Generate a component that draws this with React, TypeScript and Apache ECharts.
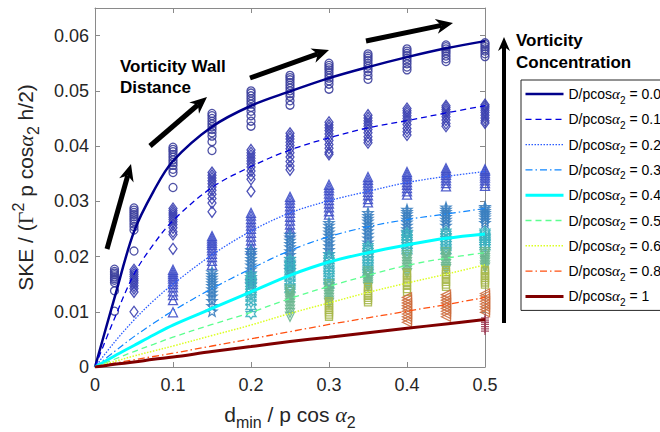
import React, { useEffect, useRef } from 'react';
import * as echarts from 'echarts';

// ---------- data ----------
const xCols = [0.025, 0.05, 0.1, 0.15, 0.2, 0.25, 0.3, 0.35, 0.4, 0.45, 0.5];
const fitX = [0, 0.025, 0.05, 0.075, 0.1, 0.15, 0.2, 0.25, 0.3, 0.35, 0.4, 0.45, 0.5];
const ratioLabels = ['0.05', '0.1', '0.2', '0.3', '0.4', '0.5', '0.6', '0.8', '1'];
const xTicks = [0, 0.1, 0.2, 0.3, 0.4, 0.5];
const yTicks = [0, 0.01, 0.02, 0.03, 0.04, 0.05, 0.06];

const fit005 = [0, 0.0125, 0.0245, 0.0318, 0.0373, 0.0435, 0.0473, 0.0499, 0.0523, 0.0543, 0.0561, 0.0577, 0.059];
const fit01 = [0, 0.0088, 0.0168, 0.0222, 0.0265, 0.0325, 0.0363, 0.0393, 0.0415, 0.0433, 0.0446, 0.046, 0.0473];
const fit02 = [0, 0.0045, 0.0085, 0.012, 0.015, 0.0203, 0.0246, 0.0279, 0.0301, 0.0318, 0.0334, 0.0345, 0.0354];
const fit03 = [0, 0.0028, 0.0055, 0.0079, 0.0102, 0.0142, 0.0178, 0.0211, 0.0236, 0.0254, 0.0267, 0.0277, 0.0287];
const fit04 = [0, 0.002, 0.0039, 0.0058, 0.0076, 0.0106, 0.0136, 0.0166, 0.019, 0.0207, 0.0221, 0.0233, 0.0241];
const fit05 = [0, 0.0014, 0.0028, 0.0041, 0.0054, 0.0077, 0.0099, 0.0124, 0.0146, 0.0166, 0.0184, 0.0197, 0.0207];
const fit06 = [0, 0.001, 0.002, 0.0029, 0.0038, 0.0057, 0.0076, 0.0097, 0.0116, 0.0135, 0.0152, 0.0168, 0.0185];
const fit08 = [0, 0.0007, 0.0013, 0.0019, 0.0025, 0.0038, 0.0051, 0.0064, 0.0077, 0.0089, 0.0101, 0.0113, 0.0126];
const fit10 = [0, 0.0005, 0.0009, 0.0014, 0.0018, 0.0028, 0.0037, 0.0046, 0.0054, 0.0062, 0.007, 0.0078, 0.0086];

// measured SKE per column (columns end at x = 0.5)
const pts005 = [
  [0.0177, 0.0173, 0.017, 0.0167, 0.0163, 0.016, 0.0157, 0.0153, 0.0138, 0.0101],
  [0.0288, 0.0284, 0.028, 0.0276, 0.0272, 0.0268, 0.0264, 0.0259, 0.0254, 0.0248, 0.021],
  [0.0398, 0.0394, 0.039, 0.0385, 0.038, 0.0375, 0.037, 0.0365, 0.0358, 0.0352, 0.0325],
  [0.0459, 0.0455, 0.045, 0.0445, 0.044, 0.0435, 0.043, 0.0424, 0.0418, 0.0408, 0.0392],
  [0.05, 0.0496, 0.0491, 0.0486, 0.0481, 0.0476, 0.047, 0.0463, 0.0455, 0.0445, 0.0436],
  [0.0528, 0.0524, 0.052, 0.0515, 0.051, 0.0505, 0.05, 0.0495, 0.049, 0.0482, 0.0474],
  [0.055, 0.0546, 0.0542, 0.0538, 0.0533, 0.0528, 0.0523, 0.0518, 0.0512, 0.0503],
  [0.0567, 0.0563, 0.0559, 0.0555, 0.055, 0.0545, 0.054, 0.0535, 0.0528, 0.0521],
  [0.0576, 0.0572, 0.0568, 0.0564, 0.0559, 0.0554, 0.0549, 0.0543, 0.0538],
  [0.0583, 0.058, 0.0576, 0.0572, 0.0568, 0.0563, 0.0558, 0.0553],
  [0.0587, 0.0584, 0.058, 0.0576, 0.0572, 0.0567, 0.0562],
];
const pts01 = [
  [0.0176, 0.0172, 0.0168, 0.0164, 0.016, 0.0156, 0.0152, 0.0147, 0.0142, 0.0136, 0.01],
  [0.0287, 0.0283, 0.0279, 0.0275, 0.0271, 0.0267, 0.0263, 0.0258, 0.0252, 0.0245, 0.024, 0.0214],
  [0.0352, 0.0347, 0.0342, 0.0337, 0.0332, 0.0326, 0.032, 0.0313, 0.0305, 0.0297, 0.0281],
  [0.0393, 0.0388, 0.0383, 0.0378, 0.0373, 0.0368, 0.0362, 0.0355, 0.0347, 0.034, 0.0318],
  [0.0423, 0.0418, 0.0413, 0.0407, 0.0401, 0.0395, 0.0388, 0.038, 0.0372, 0.0364, 0.0357],
  [0.0443, 0.0438, 0.0433, 0.0428, 0.0422, 0.0416, 0.041, 0.0403, 0.0396, 0.0389, 0.0385],
  [0.0456, 0.0451, 0.0446, 0.0441, 0.0436, 0.043, 0.0424, 0.0417, 0.0411, 0.0406],
  [0.0468, 0.0464, 0.046, 0.0455, 0.045, 0.0445, 0.0439, 0.0432, 0.0426, 0.042],
  [0.0473, 0.047, 0.0466, 0.0462, 0.0458, 0.0453, 0.0447, 0.0441, 0.0436],
  [0.0475, 0.0472, 0.0469, 0.0465, 0.0461, 0.0456, 0.0451, 0.0446, 0.0442],
];
const pts02 = [
  [0.0176, 0.0172, 0.0168, 0.0164, 0.016, 0.0155, 0.015, 0.0144, 0.0137, 0.013, 0.0121, 0.0099],
  [0.0237, 0.0233, 0.0229, 0.0225, 0.0221, 0.0216, 0.0211, 0.0205, 0.0199, 0.0192, 0.0185],
  [0.0279, 0.0274, 0.0268, 0.0262, 0.0256, 0.025, 0.0243, 0.0236, 0.0229, 0.0221, 0.0213],
  [0.0308, 0.0303, 0.0297, 0.0291, 0.0285, 0.0279, 0.0272, 0.0265, 0.0258, 0.025, 0.0244],
  [0.033, 0.0325, 0.032, 0.0314, 0.0308, 0.0302, 0.0296, 0.0289, 0.0282, 0.0276],
  [0.0344, 0.0339, 0.0334, 0.0329, 0.0323, 0.0317, 0.0311, 0.0304, 0.0298],
  [0.0353, 0.0349, 0.0345, 0.034, 0.0335, 0.033, 0.0324, 0.0318, 0.0312],
  [0.036, 0.0356, 0.0352, 0.0348, 0.0343, 0.0338, 0.0333, 0.0327],
  [0.0358, 0.0355, 0.0351, 0.0347, 0.0343, 0.0338, 0.0333, 0.0328],
];
const pts03 = [
  [0.0172, 0.0167, 0.0162, 0.0157, 0.0152, 0.0147, 0.0141, 0.0135, 0.0128, 0.012, 0.0111, 0.0101],
  [0.0212, 0.0207, 0.0202, 0.0196, 0.019, 0.0184, 0.0177, 0.017, 0.0163, 0.0156, 0.015],
  [0.024, 0.0235, 0.0229, 0.0223, 0.0217, 0.021, 0.0203, 0.0196, 0.0189, 0.0182, 0.0176],
  [0.0261, 0.0256, 0.025, 0.0244, 0.0238, 0.0232, 0.0226, 0.0219, 0.0212, 0.0205],
  [0.0279, 0.0274, 0.0269, 0.0264, 0.0258, 0.0252, 0.0246, 0.024, 0.0233, 0.0226],
  [0.0285, 0.0281, 0.0277, 0.0272, 0.0267, 0.0262, 0.0256, 0.025, 0.0244],
  [0.0289, 0.0285, 0.0281, 0.0277, 0.0272, 0.0267, 0.0262, 0.0256],
  [0.029, 0.0287, 0.0283, 0.0279, 0.0275, 0.0271, 0.0266, 0.0261],
];
const pts04 = [
  [0.0166, 0.0161, 0.0156, 0.0151, 0.0146, 0.0141, 0.0136, 0.013, 0.0124, 0.0117, 0.0109, 0.0096],
  [0.0194, 0.0189, 0.0184, 0.0178, 0.0172, 0.0166, 0.016, 0.0153, 0.0146, 0.014],
  [0.0202, 0.0197, 0.0192, 0.0186, 0.018, 0.0174, 0.0168, 0.0162, 0.0155, 0.0148],
  [0.0219, 0.0215, 0.021, 0.0205, 0.02, 0.0194, 0.0188, 0.0182, 0.0176, 0.0171],
  [0.0243, 0.0239, 0.0235, 0.023, 0.0225, 0.022, 0.0215, 0.021],
  [0.0245, 0.0241, 0.0237, 0.0232, 0.0227, 0.0222, 0.0216, 0.021],
  [0.0245, 0.0242, 0.0238, 0.0234, 0.023, 0.0226, 0.0221, 0.0217],
];
const pts05 = [
  [0.014, 0.0136, 0.0132, 0.0128, 0.0124, 0.012, 0.0115, 0.011, 0.0104, 0.0098, 0.0091],
  [0.015, 0.0146, 0.0142, 0.0138, 0.0134, 0.013, 0.0125, 0.012, 0.0116],
  [0.0173, 0.0169, 0.0165, 0.0161, 0.0157, 0.0153, 0.0149, 0.0145],
  [0.0203, 0.0199, 0.0195, 0.019, 0.0185, 0.018, 0.0175, 0.017],
  [0.0208, 0.0204, 0.02, 0.0196, 0.0191, 0.0186, 0.0181, 0.0177],
  [0.0208, 0.0205, 0.0201, 0.0197, 0.0193, 0.0189, 0.0184, 0.018],
];
const pts06 = [
  [0.0119, 0.0115, 0.0111, 0.0107, 0.0103, 0.0099, 0.0095, 0.0091],
  [0.0145, 0.0141, 0.0137, 0.0133, 0.0129, 0.0125, 0.0121, 0.0117],
  [0.0171, 0.0167, 0.0162, 0.0157, 0.0152, 0.0147, 0.0141, 0.0136],
  [0.0176, 0.0172, 0.0168, 0.0164, 0.0159, 0.0154, 0.0149, 0.0145],
  [0.0176, 0.0173, 0.0169, 0.0165, 0.0161, 0.0157, 0.0153, 0.0149],
];
const pts08 = [
  [0.0126, 0.0121, 0.0116, 0.0111, 0.0106, 0.0101, 0.0096, 0.0091, 0.0086, 0.0081],
  [0.0131, 0.0126, 0.0121, 0.0116, 0.0111, 0.0106, 0.0101, 0.0096, 0.0091],
  [0.0133, 0.0129, 0.0124, 0.0119, 0.0114, 0.0109, 0.0104, 0.0099],
];
const pts10 = [
  [0.0089, 0.0085, 0.0081, 0.0077, 0.0073, 0.0069, 0.0065],
];

const fits = [fit005, fit01, fit02, fit03, fit04, fit05, fit06, fit08, fit10];
const pts = [pts005, pts01, pts02, pts03, pts04, pts05, pts06, pts08, pts10];

// ---------- styles ----------
const F = "'Liberation Sans', Arial, Helvetica, sans-serif";
const SERIF = "'Liberation Serif', 'DejaVu Serif', serif";
const lineStyles: any[] = [
  { color: '#00008b', width: 2.5, type: 'solid' },
  { color: '#0000dd', width: 1.3, type: [6, 4] },
  { color: '#2a5cff', width: 1.3, type: [1.5, 1.5] },
  { color: '#0f86ff', width: 1.2, type: [7, 3, 1.5, 3] },
  { color: '#00ffff', width: 3, type: 'solid' },
  { color: '#5cff90', width: 1.3, type: [6, 4] },
  { color: '#dcff22', width: 1.5, type: [1.5, 1.5] },
  { color: '#ff5010', width: 1.3, type: [7, 3, 1.5, 3] },
  { color: '#800000', width: 3, type: 'solid' },
];
const PENT = 'path://M0,-10 L2.35,-3.24 L9.51,-3.09 L3.8,1.24 L5.88,8.09 L0,4 L-5.88,8.09 L-3.8,1.24 L-9.51,-3.09 L-2.35,-3.24 Z';
const HEX = 'path://M0,-10 L2.89,-5 L8.66,-5 L5.77,0 L8.66,5 L2.89,5 L0,10 L-2.89,5 L-8.66,5 L-5.77,0 L-8.66,-5 L-2.89,-5 Z';
const TDOWN = 'path://M-10,-8 L10,-8 L0,9 Z';
const TLEFT = 'path://M-9,0 L8,-10 L8,10 Z';
const PLUS = 'path://M0,-10 L0,10 M-10,0 L10,0';
const markerStyles: any[] = [
  { symbol: 'circle', size: 8, color: '#3c3f9c' },
  { symbol: 'diamond', size: [8, 11], color: '#3a3fb0' },
  { symbol: 'triangle', size: 9, color: '#3f4fc8' },
  { symbol: PENT, size: 10, color: '#3b7fc0' },
  { symbol: HEX, size: 10, color: '#3bb0bf' },
  { symbol: TDOWN, size: 9, color: '#69b68e' },
  { symbol: 'rect', size: 7, color: '#a7b84b' },
  { symbol: TLEFT, size: 9, color: '#cd6c3c' },
  { symbol: PLUS, size: 8, color: '#9e3d55' },
];

function arrow(x1: number, y1: number, x2: number, y2: number, w: number, L: number, W: number) {
  const dx = x2 - x1, dy = y2 - y1;
  const len = Math.hypot(dx, dy);
  const ux = dx / len, uy = dy / len, px = -uy, py = ux;
  const bx = x2 - ux * L, by = y2 - uy * L;
  const nx = x2 - ux * L * 0.7, ny = y2 - uy * L * 0.7;
  return [
    { type: 'line', shape: { x1, y1, x2: nx, y2: ny }, style: { stroke: '#000', lineWidth: w }, silent: true },
    {
      type: 'polygon',
      shape: { points: [[x2, y2], [bx + (px * W) / 2, by + (py * W) / 2], [nx, ny], [bx - (px * W) / 2, by - (py * W) / 2]] },
      style: { fill: '#000' },
      silent: true,
    },
  ];
}

export default function App() {
  const ref = useRef<HTMLDivElement>(null);
  useEffect(() => {
    if (!ref.current) return;
    const chart = echarts.init(ref.current, null, { renderer: 'svg' });

    const scatterSeries = pts.map((cols, si) => {
      const start = xCols.length - cols.length;
      const data: number[][] = [];
      cols.forEach((col, ci) => col.forEach((y) => data.push([xCols[start + ci], y])));
      const m = markerStyles[si];
      return {
        type: 'scatter',
        name: 'pts ' + ratioLabels[si],
        data,
        symbol: m.symbol,
        symbolSize: m.size,
        itemStyle: { color: 'rgba(0,0,0,0)', borderColor: m.color, borderWidth: 1.3, opacity: 0.9 },
        z: 2,
        silent: true,
      };
    });
    const lineSeries = fits.map((f, si) => ({
      type: 'line',
      name: ratioLabels[si],
      data: fitX.map((x, i) => [x, f[i]]),
      symbol: 'none',
      showSymbol: false,
      smooth: 0.35,
      lineStyle: lineStyles[si],
      itemStyle: { color: lineStyles[si].color },
      z: 3,
      silent: true,
    }));

    const axisCommon = {
      axisLine: { show: true, onZero: false, lineStyle: { color: '#8a8a8a', width: 1 } },
      axisTick: { show: true, inside: true, length: 5, lineStyle: { color: '#8a8a8a' } },
      splitLine: { show: false },
    };

    const option: any = {
      animation: false,
      backgroundColor: '#fff',
      grid: { left: 95, right: 175, top: 8, bottom: 65, containLabel: false, outerBoundsMode: 'none' },
      xAxis: [
        {
          type: 'value', min: xTicks[0], max: xTicks[xTicks.length - 1], interval: 0.1,
          ...axisCommon,
          axisLabel: { show: true, margin: 9, fontFamily: F, fontSize: 18, color: '#262626' },
          name: '{t|d}{sub|min}{t| / p cos }{g|α}{sub|2}',
          nameLocation: 'middle', nameGap: 31,
          nameTextStyle: {
            fontFamily: F, fontSize: 21, color: '#262626',
            rich: {
              t: { fontFamily: F, fontSize: 21, lineHeight: 26, color: '#262626' },
              g: { fontFamily: SERIF, fontStyle: 'italic', fontSize: 22, lineHeight: 26, color: '#262626' },
              sub: { fontFamily: F, fontSize: 16, lineHeight: 10, padding: [16, 0, 0, 0], color: '#262626' },
            },
          },
        },
        {
          type: 'value', position: 'top', min: 0, max: 0.5, interval: 0.1,
          ...axisCommon, axisLabel: { show: false },
        },
      ],
      yAxis: [
        {
          type: 'value', min: yTicks[0], max: 0.065, interval: 0.01,
          ...axisCommon,
          axisLabel: { show: true, margin: 6, fontFamily: F, fontSize: 18, color: '#262626', showMaxLabel: false },
          name: '{t|SKE / (}{G|Γ}{sup|2}{t| p cos}{g|α}{sub|2}{t| h/2)}',
          nameLocation: 'middle', nameGap: 57, nameRotate: 90,
          nameTextStyle: {
            fontFamily: F, fontSize: 21, color: '#262626',
            rich: {
              t: { fontFamily: F, fontSize: 21, lineHeight: 26, color: '#262626' },
              G: { fontFamily: SERIF, fontSize: 22, lineHeight: 26, color: '#262626' },
              g: { fontFamily: SERIF, fontStyle: 'italic', fontSize: 22, lineHeight: 26, color: '#262626' },
              sup: { fontFamily: F, fontSize: 16, lineHeight: 12, padding: [0, 0, 14, 0], color: '#262626' },
              sub: { fontFamily: F, fontSize: 16, lineHeight: 10, padding: [16, 0, 0, 0], color: '#262626' },
            },
          },
        },
        {
          type: 'value', position: 'right', min: 0, max: 0.065, interval: 0.01,
          ...axisCommon, axisLabel: { show: false },
        },
      ],
      legend: {
        orient: 'vertical', left: 521, top: 80,
        data: ratioLabels,
        itemWidth: 38, itemHeight: 12, itemGap: 3.3,
        padding: [3, 6, 3, 3],
        borderColor: '#262626', borderWidth: 1, borderRadius: 0, backgroundColor: '#fff',
        selectedMode: false,
        lineStyle: { width: 'inherit' },
        itemStyle: { color: 'rgba(0,0,0,0)', borderColor: 'rgba(0,0,0,0)', borderWidth: 0, opacity: 0 },
        formatter: (n: string) => `{n|D/pcos}{g|α}{s|2}{n| = ${n}}`,
        textStyle: {
          fontFamily: F, fontSize: 14, color: '#000',
          rich: {
            n: { fontFamily: F, fontSize: 14, lineHeight: 20, color: '#000' },
            g: { fontFamily: SERIF, fontStyle: 'italic', fontSize: 15, lineHeight: 20, color: '#000' },
            s: { fontFamily: F, fontSize: 10, lineHeight: 8, padding: [12, 0, 0, 0], color: '#000' },
          },
        },
      },
      graphic: {
        elements: [
          ...arrow(107, 249, 131, 164, 5, 17, 15),
          ...arrow(150, 146, 207, 97, 5, 17, 15),
          ...arrow(250, 78, 329, 50, 5, 17, 15),
          ...arrow(366, 41, 453, 23, 5, 17, 15),
          ...arrow(504, 323, 504, 37, 4, 14, 12),
          {
            type: 'text', left: 120, top: 56,
            style: { text: 'Vorticity Wall\nDistance', font: `bold 17px ${F}`, fill: '#000', lineHeight: 21 },
            silent: true,
          },
          {
            type: 'text', left: 516, top: 29,
            style: { text: 'Vorticity\nConcentration', font: `bold 17px ${F}`, fill: '#000', lineHeight: 22 },
            silent: true,
          },
        ],
      },
      series: [...scatterSeries, ...lineSeries],
    };
    chart.setOption(option);
    return () => chart.dispose();
  }, []);
  return <div ref={ref} style={{ position: 'fixed', left: 0, top: 0, width: 660, height: 432, background: '#fff' }} />;
}
